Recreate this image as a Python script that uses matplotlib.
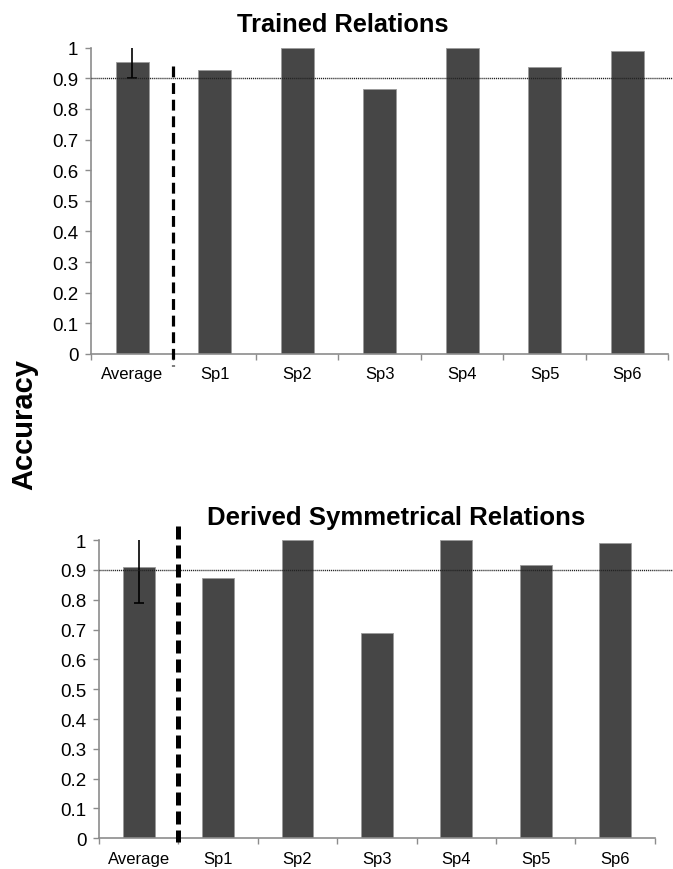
import matplotlib
matplotlib.use("Agg")
import matplotlib.pyplot as plt
import numpy as np

plt.rcParams['font.family'] = ['Liberation Sans', 'DejaVu Sans']

categories = ["Average", "Sp1", "Sp2", "Sp3", "Sp4", "Sp5", "Sp6"]
trained = [0.953, 0.927, 1.0, 0.864, 1.0, 0.937, 0.989]
trained_err = 0.053
derived = [0.910, 0.874, 1.0, 0.687, 1.0, 0.915, 0.991]
derived_err = 0.121
criterion = 0.9
yticks = [0, 0.1, 0.2, 0.3, 0.4, 0.5, 0.6, 0.7, 0.8, 0.9, 1]
ytick_labels = ["0", "0.1", "0.2", "0.3", "0.4", "0.5", "0.6", "0.7", "0.8", "0.9", "1"]

fig = plt.figure(figsize=(6.73, 8.70), dpi=100)

BAR = "#464646"
AX = "#8c8c8c"


def panel(rect, values, err, dash_lw, dash_pattern, dash_ylim, line_right, tick_fs, xtick_fs):
    ax = fig.add_axes(rect)
    x = np.arange(len(categories))
    ax.bar(x, values, width=0.4, color=BAR, edgecolor="#9a9a9a", linewidth=0.6, zorder=2)
    ax.errorbar([x[0]], [values[0]], yerr=err, fmt="none", ecolor="black",
                elinewidth=1.2, capsize=3.5, capthick=1.2, zorder=3)
    ax.set_xlim(-0.5, len(categories) - 0.5)
    ax.set_ylim(0, 1)
    ax.plot([-0.5, line_right], [criterion, criterion], color="#222222", lw=1.0,
            linestyle=(0, (0.8, 0.6)), clip_on=False, zorder=4)
    ax.plot([0.5, 0.5], dash_ylim, color="black", lw=dash_lw,
            linestyle=(0, dash_pattern), clip_on=False, zorder=5)
    ax.set_yticks(yticks)
    ax.set_yticklabels(ytick_labels, fontsize=tick_fs)
    ax.set_xticks(x)
    ax.set_xticklabels(categories, fontsize=xtick_fs)
    ax.set_xticks(np.arange(-0.5, len(categories)), minor=True)
    ax.tick_params(axis="x", which="major", length=0, pad=9)
    ax.tick_params(axis="x", which="minor", length=4, color=AX, width=1)
    ax.tick_params(axis="y", length=4, color=AX, width=1, pad=5)
    for s in ("top", "right"):
        ax.spines[s].set_visible(False)
    for s in ("left", "bottom"):
        ax.spines[s].set_color(AX)
        ax.spines[s].set_linewidth(1.2)
    return ax


panel([0.135, 0.592, 0.858, 0.352], trained, trained_err, 2.3, (3.4, 1.8), (0.941, -0.04), 6.56, 13.5, 12)
panel([0.147, 0.0353, 0.826, 0.3427], derived, derived_err, 3.6, (2.6, 1.2), (1.047, -0.013), 6.72, 13.5, 12)

fig.text(0.510, 0.9632, "Trained Relations", fontsize=18.3, fontweight="bold",
         ha="center", va="baseline")
fig.text(0.589, 0.3966, "Derived Symmetrical Relations", fontsize=18.5, fontweight="bold",
         ha="center", va="baseline")
fig.text(0.0357, 0.5126, "Accuracy", fontsize=21, fontweight="bold", rotation=90,
         ha="center", va="center")

fig.savefig("out.png", dpi=100)
